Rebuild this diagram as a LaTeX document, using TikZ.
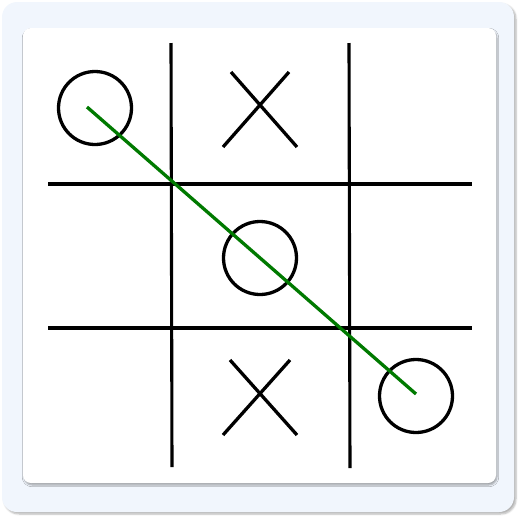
\documentclass[tikz,border=0pt]{standalone}
\usetikzlibrary{shadows.blur}
\definecolor{outerbg}{HTML}{F1F6FD}
\definecolor{winline}{HTML}{007A00}
\tikzset{
  outercard/.style={fill=outerbg, rounded corners=15pt, blur shadow={shadow xshift=2pt, shadow yshift=-2pt, shadow blur steps=6, shadow opacity=30}},
  innercard/.style={fill=white, rounded corners=8pt, blur shadow={shadow xshift=1pt, shadow yshift=-2pt, shadow blur steps=5, shadow opacity=35}},
  gridline/.style={line width=3.1pt, black},
  mark O/.style={circle, draw=black, line width=3.3pt, minimum size=73pt, inner sep=0pt},
  xstroke/.style={line width=3.3pt, black},
  win/.style={line width=3.3pt, winline}
}
\begin{document}
\begin{tikzpicture}[x=1pt,y=-1pt]
\useasboundingbox (0,0) rectangle (520,520);
% cards
\path[outercard] (2,2) rectangle (514,512);
\path[innercard] (23,28) rectangle (496,483);
% grid
\coordinate (v1t) at (171,43); \coordinate (v1b) at (172,467);
\coordinate (v2t) at (349,43); \coordinate (v2b) at (350,468);
\coordinate (h1l) at (48,184); \coordinate (h1r) at (472,184);
\coordinate (h2l) at (48,328); \coordinate (h2r) at (472,328);
\draw[gridline] (v1t) -- (v1b);
\draw[gridline] (v2t) -- (v2b);
\draw[gridline] (h1l) -- (h1r);
\draw[gridline] (h2l) -- (h2r);
% O marks
\node[mark O] (o1) at (95,108) {};
\node[mark O] (o2) at (260,258) {};
\node[mark O] (o3) at (416,396) {};
% X marks
\coordinate (xa1) at (231,72); \coordinate (xa2) at (297,147);
\coordinate (xb1) at (289,72); \coordinate (xb2) at (223,147);
\draw[xstroke] (xa1) -- (xa2);
\draw[xstroke] (xb1) -- (xb2);
\coordinate (xc1) at (230,360); \coordinate (xc2) at (297,435);
\coordinate (xd1) at (290,360); \coordinate (xd2) at (223,435);
\draw[xstroke] (xc1) -- (xc2);
\draw[xstroke] (xd1) -- (xd2);
% winning line
\coordinate (ws) at (87,107);
\coordinate (we) at (416,394);
\draw[win] (ws) -- (we);
\end{tikzpicture}
\end{document}
